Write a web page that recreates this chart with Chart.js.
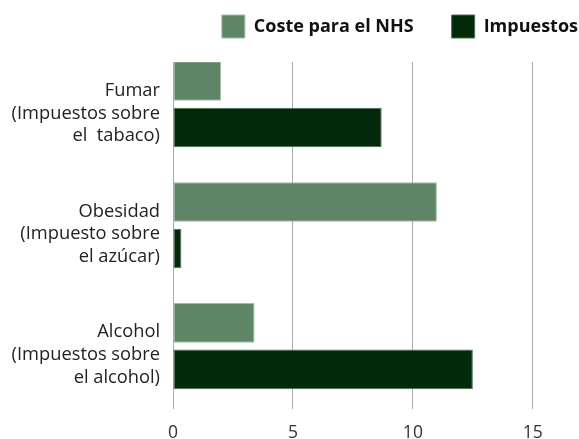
<!DOCTYPE html>
<html><head><meta charset="utf-8">
<script src="https://cdn.jsdelivr.net/npm/chart.js@4/dist/chart.umd.min.js"></script>
<style>html,body{margin:0;padding:0;background:#fff;overflow:hidden}#wrap{width:579px;height:439px;position:relative}</style>
</head><body><div id="wrap"><canvas id="c"></canvas></div>
<script>
const categories = [
  ['Fumar', '(Impuestos sobre', 'el  tabaco)'],
  ['Obesidad', '(Impuesto sobre', 'el azúcar)'],
  ['Alcohol', '(Impuestos sobre', 'el alcohol)']
];
const seriesNames = ['Coste para el NHS', 'Impuestos'];
const nhsCost = [2.0, 11.0, 3.4];
const taxes = [8.7, 0.35, 12.5];
const xTickValues = [0, 5, 10, 15];

const categoryIndex = categories.map((c, i) => i);
const toPoints = vals => vals.map((v, i) => ({x: v, y: categoryIndex[i]}));

Chart.defaults.font.family = "'Open Sans', sans-serif";

const legendTweak = {
  id: 'legendTweak',
  beforeLayout(chart) {
    const lg = chart.legend;
    if (lg && !lg._patched) {
      const fit = lg.fit.bind(lg);
      lg.fit = function () { fit(); this.height = 62; };
      lg._patched = true;
    }
  },
  afterLayout(chart) {
    const lg = chart.legend;
    if (!lg) return;
    lg.top -= 23; lg.bottom -= 23;
    lg.right = chart.width + 37;
  }
};

new Chart(document.getElementById('c'), {
  type: 'bar',
  data: {
    datasets: [
      {label: seriesNames[0], data: toPoints(nhsCost), backgroundColor: '#5e8565', borderColor: '#a3bda8', borderWidth: 1, borderSkipped: false},
      {label: seriesNames[1], data: toPoints(taxes), backgroundColor: '#02290a', borderColor: '#4f6e54', borderWidth: 1, borderSkipped: false}
    ]
  },
  options: {
    indexAxis: 'y',
    responsive: true,
    maintainAspectRatio: false,
    animation: false,
    devicePixelRatio: 1,
    datasets: {bar: {categoryPercentage: 0.77, barPercentage: 0.85}},
    layout: {padding: {left: 0, right: 3, top: 0, bottom: 0}},
    scales: {
      y: {
        type: 'linear', reverse: true, min: -0.35, max: 2.52, offset: false,
        grid: {display: false, drawTicks: false, offset: false}, border: {display: false},
        afterBuildTicks: s => { s.ticks = categoryIndex.map(v => ({value: v})); },
        afterFit: s => { s.width = 173; s.paddingTop = 0; s.paddingBottom = 0; },
        ticks: {
          padding: 13, labelOffset: 9, color: '#222', autoSkip: false,
          font: {size: 18.3, lineHeight: 1.25},
          callback: v => categories[v]
        }
      },
      x: {
        type: 'linear', position: 'bottom', min: 0, max: 16.8,
        afterBuildTicks: s => { s.ticks = xTickValues.map(v => ({value: v})); },
        afterFit: s => { s.height = 30; },
        grid: {color: '#aaaaaa', lineWidth: 1, drawTicks: false},
        border: {display: false},
        ticks: {padding: 14, color: '#333', font: {size: 17.5}}
      }
    },
    plugins: {
      legend: {
        position: 'top', align: 'end',
        labels: {boxWidth: 23, boxHeight: 23, padding: 38, color: '#111', font: {size: 18, weight: 'bold'}}
      },
      tooltip: {enabled: false}
    }
  },
  plugins: [legendTweak]
});
</script>
</body></html>
